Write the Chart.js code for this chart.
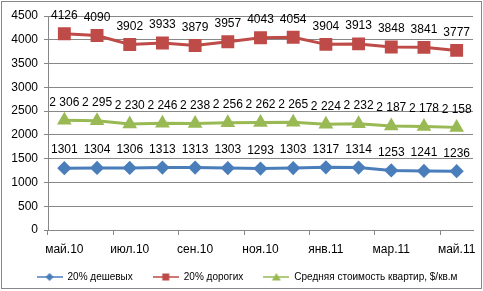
<!DOCTYPE html>
<html>
<head>
<meta charset="utf-8">
<script src="https://cdn.jsdelivr.net/npm/chart.js@4"></script>
<style>
  html, body { margin: 0; padding: 0; background: #fff; }
  #wrap { width: 483px; height: 291px; }
</style>
</head>
<body>
<div id="wrap"><canvas id="chart" width="483" height="291"></canvas></div>
<script>
const months = ["май.10", "июн.10", "июл.10", "авг.10", "сен.10", "окт.10", "ноя.10",
  "дек.10", "янв.11", "фев.11", "мар.11", "апр.11", "май.11"];
const cheap = [1301, 1304, 1306, 1313, 1313, 1303, 1293, 1303, 1317, 1314, 1253, 1241, 1236];
const expensive = [4126, 4090, 3902, 3933, 3879, 3957, 4043, 4054, 3904, 3913, 3848, 3841, 3777];
const average = [2306, 2295, 2230, 2246, 2238, 2256, 2262, 2265, 2224, 2232, 2187, 2178, 2158];
const seriesNames = ["20% дешевых", "20% дорогих", "Средняя стоимость квартир, $/кв.м"];

const blue = "#4A7EBB", red = "#BE4B48", green = "#98B954";
const gridColor = "#878787";
const font = "'Liberation Sans', Arial, sans-serif";

// legend icon: short line with the marker in the middle
function legendIcon(color, style) {
  const c = document.createElement("canvas");
  c.width = 26; c.height = 10;
  const g = c.getContext("2d");
  g.strokeStyle = color; g.fillStyle = color; g.lineWidth = 1.5;
  g.beginPath(); g.moveTo(0, 5); g.lineTo(26, 5); g.stroke();
  g.beginPath();
  if (style === "rectRot") { g.moveTo(13, 1); g.lineTo(17, 5); g.lineTo(13, 9); g.lineTo(9, 5); }
  else if (style === "rect") { g.rect(9.5, 1.5, 7, 7); }
  else { g.moveTo(13, 1); g.lineTo(17.5, 8.5); g.lineTo(8.5, 8.5); }
  g.closePath(); g.fill();
  return c;
}

const fmtSpace = v => String(v).replace(/\B(?=(\d{3})+(?!\d))/g, " ");

const valueLabels = {
  id: "valueLabels",
  afterDatasetsDraw(chart) {
    const ctx = chart.ctx;
    ctx.save();
    ctx.font = "12px " + font;
    ctx.fillStyle = "#000";
    ctx.textAlign = "center";
    ctx.textBaseline = "middle";
    chart.data.datasets.forEach((ds, i) => {
      chart.getDatasetMeta(i).data.forEach((p, j) => {
        const txt = ds.spaced ? fmtSpace(ds.data[j]) : String(ds.data[j]);
        ctx.fillText(txt, p.x, p.y - 18);
      });
    });
    ctx.restore();
  }
};

const frame = {
  id: "frame",
  beforeDraw(chart) {
    const ctx = chart.ctx;
    ctx.save();
    ctx.fillStyle = "#fff";
    ctx.fillRect(0, 0, chart.width, chart.height);
    ctx.strokeStyle = gridColor;
    ctx.lineWidth = 1;
    ctx.strokeRect(1.5, 1.5, 480, 287);
    ctx.restore();
  }
};

// nudge the legend row to where Excel put it
const legendNudge = {
  id: "legendNudge",
  afterLayout(chart) {
    const lg = chart.legend;
    lg.left += 5; lg.right += 5;
    lg.top -= 8; lg.bottom -= 8;
  }
};

const styles = ["rectRot", "rect", "triangle"];
const colors = [blue, red, green];

new Chart(document.getElementById("chart"), {
  type: "line",
  data: {
    labels: months,
    datasets: [
      { label: seriesNames[0], data: cheap, borderColor: blue, backgroundColor: blue,
        pointStyle: "rectRot", pointRadius: 5, borderWidth: 3, order: 3 },
      { label: seriesNames[1], data: expensive, borderColor: red, backgroundColor: red,
        pointStyle: "rect", pointRadius: 7, borderWidth: 3, order: 2 },
      { label: seriesNames[2], data: average, borderColor: green, backgroundColor: green,
        pointStyle: "triangle", pointRadius: 5.5, borderWidth: 3, spaced: true, order: 1 }
    ]
  },
  options: {
    responsive: false,
    animation: false,
    layout: { padding: { left: 9, right: 8, top: 16, bottom: 0 } },
    elements: { line: { tension: 0 }, point: { borderWidth: 0, hoverRadius: 6 } },
    scales: {
      x: {
        offset: true,
        afterFit: s => { s.height = 30; },
        grid: {
          offset: true, drawOnChartArea: false, tickLength: 5,
          color: c => (c.index !== undefined && c.index % 2 === 0) ? gridColor : "rgba(0,0,0,0)"
        },
        border: { color: gridColor },
        ticks: {
          autoSkip: false, maxRotation: 0, padding: 7, color: "#000",
          font: { family: font, size: 12 },
          callback: (v, i) => i % 2 === 0 ? months[i] : ""
        }
      },
      y: {
        min: 0, max: 4500,
        afterFit: s => { s.width = 39; },
        grid: { color: gridColor, tickLength: 4 },
        border: { color: gridColor },
        ticks: {
          stepSize: 500, padding: 6, color: "#000", font: { family: font, size: 12 },
          callback: v => String(v)
        }
      }
    },
    plugins: {
      tooltip: { enabled: false },
      legend: {
        position: "bottom",
        maxHeight: 31,
        labels: {
          usePointStyle: true,
          pointStyleWidth: 26,
          padding: 20,
          color: "#000",
          font: { family: font, size: 10 },
          generateLabels: chart => chart.data.datasets.map((ds, i) => ({
            text: ds.label,
            pointStyle: legendIcon(colors[i], styles[i]),
            fillStyle: colors[i], strokeStyle: colors[i], lineWidth: 0,
            datasetIndex: i, hidden: false
          }))
        }
      }
    }
  },
  plugins: [frame, legendNudge, valueLabels]
});
</script>
</body>
</html>
